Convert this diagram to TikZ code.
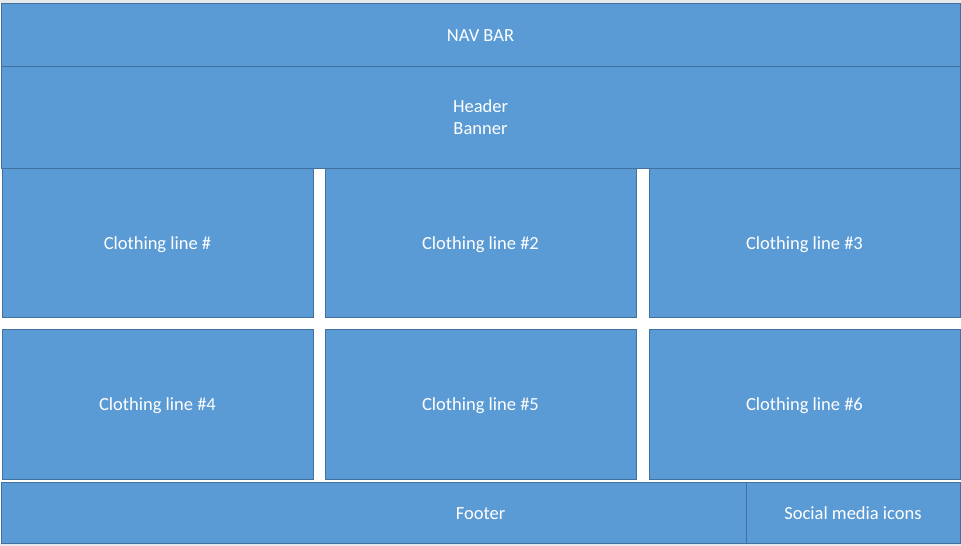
\documentclass[tikz,border=0pt]{standalone}
\usepackage{fontspec}
\setmainfont{Carlito}
\usepackage{xcolor}
\usepackage{tikz}
\usetikzlibrary{positioning}
\definecolor{boxblue}{HTML}{5B9BD5}
\definecolor{boxline}{HTML}{41719C}
\definecolor{edgegray}{HTML}{E6E8EB}

\begin{document}
\begin{tikzpicture}[x=1pt,
				y=-1pt,
				box/.style={draw=boxline, fill=boxblue, line width=1pt,
					rectangle, inner sep=0pt, outer sep=0pt,
					text=white, align=center,
					text height=14.5pt, text depth=1pt,
					font=\fontsize{18.5}{22}\selectfont},
				tile/.style={box, minimum width=311pt, minimum height=149pt}]
				\useasboundingbox (0,0) rectangle (961,546);
				\fill[white] (0,0) rectangle (961,546);
				\fill[edgegray] (0,0) rectangle (961,3);
				\fill[edgegray] (0,543) rectangle (961,546);
				\node[box, minimum width=959pt, minimum height=63pt] at (480.5,34.5) (n) {NAV BAR};
				\node[box, minimum width=959pt, minimum height=102pt, text height=, text depth=] at (480.5,117) (h) {Header\\Banner};
				\node[tile] at (157.5,242.5) (a) {Clothing line \#};
				\node[tile] at (480.5,242.5) (b) {Clothing line \#2};
				\node[tile] at (804.5,242.5) (c) {Clothing line \#3};
				\node[tile, minimum height=150pt] at (157.5,404) (d) {Clothing line \#4};
				\node[tile, minimum height=150pt] at (480.5,404) (e) {Clothing line \#5};
				\node[tile, minimum height=150pt] at (804.5,404) (f) {Clothing line \#6};
				\node[box, minimum width=959pt, minimum height=61pt] at (480.5,512.5) (g) {Footer};
				\node[box, minimum width=214pt, minimum height=61pt] at (853,512.5) (s) {Social media icons};
			\end{tikzpicture}
\end{document}
